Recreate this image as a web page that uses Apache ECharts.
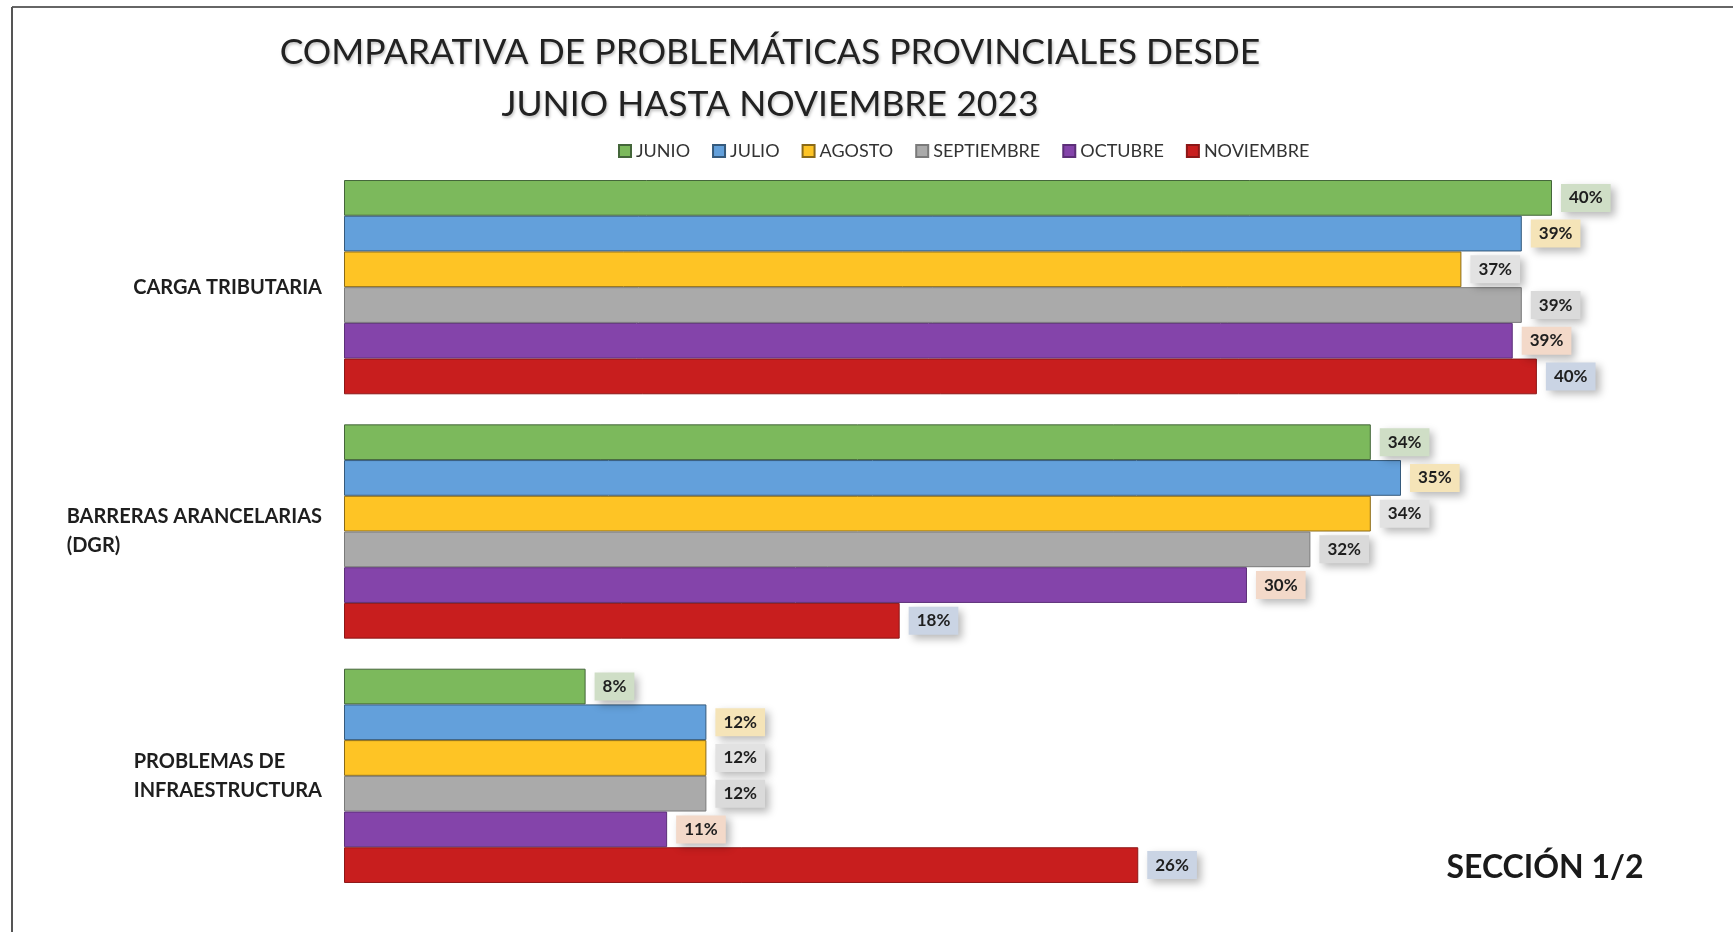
<!DOCTYPE html>
<html>
<head>
<meta charset="utf-8">
<script src="https://cdn.jsdelivr.net/npm/echarts@6/dist/echarts.min.js"></script>
<style>
  html, body { margin: 0; padding: 0; background: #fff; }
  #main { width: 1733px; height: 932px; }
</style>
</head>
<body>
<div id="main"></div>
<script>
// categorias (eje vertical)
var categorias = ['CARGA TRIBUTARIA', 'BARRERAS ARANCELARIAS\n(DGR)', 'PROBLEMAS DE\nINFRAESTRUCTURA'];
var meses = ['JUNIO', 'JULIO', 'AGOSTO', 'SEPTIEMBRE', 'OCTUBRE', 'NOVIEMBRE'];

// valores (%)
var junio = [40, 34, 8];
var julio = [39, 35, 12];
var agosto = [37, 34, 12];
var septiembre = [39, 32, 12];
var octubre = [38.7, 29.9, 10.7];
var noviembre = [39.5, 18.4, 26.3];

var colores = ['#7cb95c', '#63a0db', '#fec425', '#aaaaaa', '#8444aa', '#c81e1e'];
var bordes = ['#44663a', '#355a7c', '#8a6a18', '#7a7a7a', '#5c2f78', '#8c1717'];
var fondosEtiqueta = ['#cfdec6', '#f5e4b8', '#e2e2e2', '#dadada', '#f3d9c9', '#cad4e4'];

var datos = [junio, julio, agosto, septiembre, octubre, noviembre];
var fuente = 'Lato, "Open Sans", sans-serif';

var chart = echarts.init(document.getElementById('main'));

var series = meses.map(function (mes, i) {
    return {
        name: mes,
        type: 'bar',
        data: datos[i],
        barGap: '0%',
        barCategoryGap: '12.3%',
        itemStyle: {
            color: colores[i],
            borderColor: bordes[i],
            borderWidth: 1
        },
        label: {
            show: true,
            position: 'right',
            distance: 9,
            formatter: function (p) { return Math.round(p.value) + '%'; },
            fontFamily: fuente,
            fontWeight: 'bold',
            fontSize: 17,
            color: '#1e1e1e',
            backgroundColor: fondosEtiqueta[i],
            padding: [6, 8, 5, 8],
            shadowColor: 'rgba(0,0,0,0.28)',
            shadowBlur: 8,
            shadowOffsetX: 4,
            shadowOffsetY: 4
        },
        emphasis: { disabled: true }
    };
});

var option = {
    backgroundColor: '#fff',
    animation: false,
    legend: {
        data: meses,
        top: 137,
        left: 613,
        icon: 'rect',
        itemWidth: 12,
        itemHeight: 12,
        itemGap: 22,
        textStyle: { fontFamily: fuente, fontSize: 18, color: '#333' }
    },
    grid: { left: 344, top: 165, height: 733, width: 1359 },
    xAxis: {
        type: 'value',
        min: 0,
        max: 45,
        show: false
    },
    yAxis: {
        type: 'category',
        inverse: true,
        data: categorias,
        axisLine: { show: false },
        axisTick: { show: false },
        axisLabel: {
            margin: 22,
            formatter: function (v) {
                return v.split('\n').map(function (s) { return '{a|' + s + '}'; }).join('\n');
            },
            rich: {
                a: {
                    fontFamily: fuente,
                    fontWeight: 'bold',
                    fontSize: 20,
                    color: '#1e1e1e',
                    align: 'left',
                    lineHeight: 29
                }
            }
        }
    },
    graphic: [
        { type: 'line', shape: { x1: 12, y1: 7, x2: 1733, y2: 7 }, style: { stroke: '#666', lineWidth: 2 } },
        { type: 'line', shape: { x1: 12, y1: 7, x2: 12, y2: 932 }, style: { stroke: '#555', lineWidth: 2 } },
        {
            type: 'text', x: 770, y: 53,
            style: {
                text: 'COMPARATIVA DE PROBLEMÁTICAS PROVINCIALES DESDE',
                font: '35.5px ' + fuente, fill: '#222',
                textAlign: 'center', textVerticalAlign: 'middle',
                textShadowColor: 'rgba(0,0,0,0.25)', textShadowBlur: 3, textShadowOffsetX: 1, textShadowOffsetY: 2
            }
        },
        {
            type: 'text', x: 770, y: 105,
            style: {
                text: 'JUNIO HASTA NOVIEMBRE 2023',
                font: '35.5px ' + fuente, fill: '#222',
                textAlign: 'center', textVerticalAlign: 'middle',
                textShadowColor: 'rgba(0,0,0,0.25)', textShadowBlur: 3, textShadowOffsetX: 1, textShadowOffsetY: 2
            }
        },
        {
            type: 'text', x: 1545, y: 868,
            style: {
                text: 'SECCIÓN 1/2',
                font: 'bold 32px ' + fuente, fill: '#1a1a1a',
                textAlign: 'center', textVerticalAlign: 'middle'
            }
        }
    ],
    series: series
};

chart.setOption(option);
</script>
</body>
</html>
